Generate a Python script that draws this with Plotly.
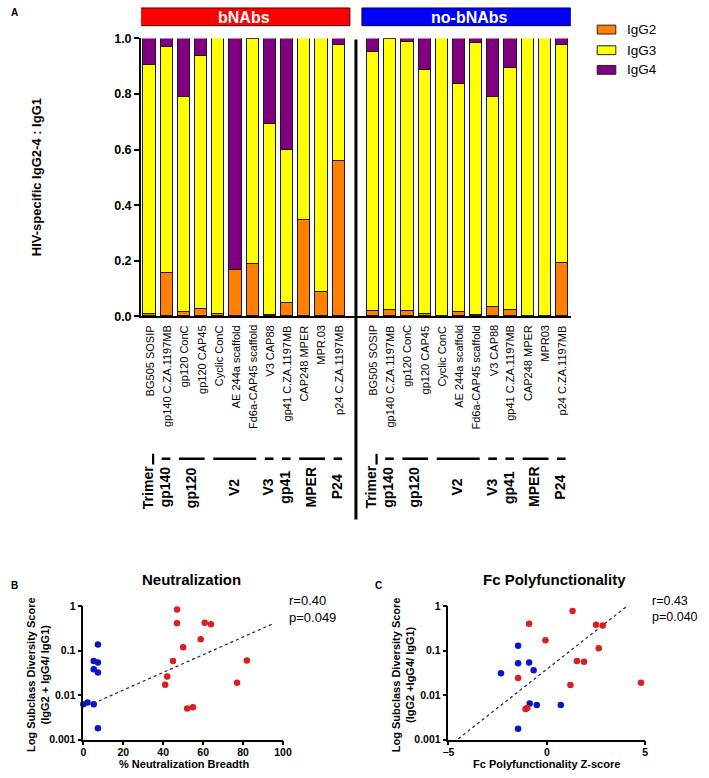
import plotly.graph_objects as go

# ---------------- data ----------------
antigens_bnabs = ["BG505 SOSIP", "gp140 C.ZA.1197MB", "gp120 ConC", "gp120 CAP45", "Cyclic ConC",
                  "AE 244a scaffold", "Fd6a-CAP45 scaffold", "V3 CAP88", "gp41 C.ZA.1197MB",
                  "CAP248 MPER", "MPR.03", "p24 C.ZA.1197MB"]
antigens_nobnabs = ["BG505 SOSIP", "gp140 C.ZA.1197MB", "gp120 ConC", "gp120 CAP45", "Cyclic ConC",
                    "AE 244a scaffold", "Fd6a-CAP45 scaffold", "V3 CAP88", "gp41 C.ZA.1197MB",
                    "CAP248 MPER", "MPR03", "p24 C.ZA.1197MB"]
groups = ["Trimer", "gp140", "gp120", "V2", "V3", "gp41", "MPER", "P24"]
group_sizes = [1, 1, 2, 3, 1, 1, 2, 1]

igg2_bnabs = [0.006, 0.154, 0.015, 0.024, 0.008, 0.167, 0.186, 0.005, 0.046, 0.346, 0.085, 0.556]
igg3_bnabs = [0.897, 0.813, 0.772, 0.913, 0.992, 0.000, 0.810, 0.684, 0.552, 0.654, 0.915, 0.420]
igg4_bnabs = [0.097, 0.033, 0.213, 0.063, 0.000, 0.833, 0.004, 0.311, 0.402, 0.000, 0.000, 0.024]

igg2_nobnabs = [0.018, 0.020, 0.018, 0.008, 0.000, 0.013, 0.002, 0.033, 0.021, 0.000, 0.000, 0.190]
igg3_nobnabs = [0.930, 0.975, 0.968, 0.877, 1.000, 0.821, 0.980, 0.754, 0.872, 1.000, 1.000, 0.784]
igg4_nobnabs = [0.052, 0.005, 0.014, 0.115, 0.000, 0.166, 0.018, 0.213, 0.107, 0.000, 0.000, 0.026]

a_yticks = [0.0, 0.2, 0.4, 0.6, 0.8, 1.0]
a_yticklabels = ["0.0", "0.2", "0.4", "0.6", "0.8", "1.0"]

# Panel B
neut_blue_x = [0, 2.1, 5.2, 5.2, 7.3, 7.3, 5.2, 7.3, 7.3]
neut_blue_y = [0.0062, 0.0068, 0.0062, 0.058, 0.054, 0.136, 0.038, 0.032, 0.0018]
neut_red_x = [46.9, 46.9, 60.8, 63.9, 58.8, 50.0, 44.9, 81.9, 77.0, 42.0, 41.0, 52.0, 54.9]
neut_red_y = [0.83, 0.41, 0.42, 0.39, 0.18, 0.118, 0.058, 0.060, 0.019, 0.026, 0.017, 0.0050, 0.0053]
neut_fit_x = [5, 95]
neut_fit_y = [0.0065, 0.40]

# Panel C
fc_blue_x = [-1.46, -1.46, -0.90, -2.33, -0.67, -0.87, -0.51, 0.71, -1.46]
fc_blue_y = [0.128, 0.052, 0.054, 0.031, 0.036, 0.0065, 0.0060, 0.0060, 0.00175]
fc_red_x = [1.31, -0.90, 2.50, 2.84, -0.07, 2.64, 1.53, 1.89, -1.46, 1.20, 4.79, -1.08, -0.99]
fc_red_y = [0.776, 0.40, 0.38, 0.367, 0.171, 0.112, 0.058, 0.056, 0.0243, 0.0168, 0.0189, 0.00485, 0.0051]
fc_fit_x = [-4.5, 4.24]
fc_fit_y = [0.00104, 1.13]

log_ticks = [0.001, 0.01, 0.1, 1]
log_ticklabels = ["0.001", "0.01", "0.1", "1"]

# ---------------- styling ----------------
W, H = 709, 778
FONT = "Liberation Sans, Arial, sans-serif"
C_IGG2, C_IGG3, C_IGG4 = "#ff7f00", "#ffff00", "#800080"
C_RED, C_BLUE = "#dc1e1e", "#0a14c8"


def fx(px):
    return px / W


def fy(py):
    return 1 - py / H


fig = go.Figure()

# positions: left group 0..11, gap at 12, right group 13..24
n = len(antigens_bnabs)
pos_left = list(range(n))
pos_right = [n + 1 + i for i in range(n)]
xs = pos_left + pos_right

for name, vals, col in [("IgG2", igg2_bnabs + igg2_nobnabs, C_IGG2),
                        ("IgG3", igg3_bnabs + igg3_nobnabs, C_IGG3),
                        ("IgG4", igg4_bnabs + igg4_nobnabs, C_IGG4)]:
    fig.add_trace(go.Bar(x=xs, y=vals, name=name, width=0.71,
                         marker=dict(color=col, line=dict(color="#1a1a1a", width=1)),
                         xaxis="x", yaxis="y", showlegend=False))

# scatter B
fig.add_trace(go.Scatter(x=neut_fit_x, y=neut_fit_y, mode="lines",
                         line=dict(color="#222", width=1.2, dash="3px,3px"),
                         xaxis="x2", yaxis="y2", showlegend=False))
fig.add_trace(go.Scatter(x=neut_blue_x, y=neut_blue_y, mode="markers",
                         marker=dict(color=C_BLUE, size=6.5), cliponaxis=False,
                         xaxis="x2", yaxis="y2", showlegend=False))
fig.add_trace(go.Scatter(x=neut_red_x, y=neut_red_y, mode="markers",
                         marker=dict(color=C_RED, size=6.5), cliponaxis=False,
                         xaxis="x2", yaxis="y2", showlegend=False))
# scatter C
fig.add_trace(go.Scatter(x=fc_fit_x, y=fc_fit_y, mode="lines",
                         line=dict(color="#222", width=1.2, dash="3px,3px"),
                         xaxis="x3", yaxis="y3", showlegend=False))
fig.add_trace(go.Scatter(x=fc_blue_x, y=fc_blue_y, mode="markers",
                         marker=dict(color=C_BLUE, size=6.5), cliponaxis=False,
                         xaxis="x3", yaxis="y3", showlegend=False))
fig.add_trace(go.Scatter(x=fc_red_x, y=fc_red_y, mode="markers",
                         marker=dict(color=C_RED, size=6.5), cliponaxis=False,
                         xaxis="x3", yaxis="y3", showlegend=False))

bold_tick = lambda s: dict(family=FONT, size=s, color="black", weight="bold")

fig.update_layout(
    width=W, height=H, margin=dict(l=0, r=0, t=0, b=0),
    paper_bgcolor="white", plot_bgcolor="white",
    barmode="stack", bargap=0, font=dict(family=FONT, color="black"),
    xaxis=dict(domain=[fx(138), fx(577)], range=[-0.5, 2 * n + 0.5], showticklabels=False,
               showline=True, linewidth=2, linecolor="black", ticks="", showgrid=False,
               zeroline=False, anchor="y"),
    yaxis=dict(domain=[fy(315), fy(32)], range=[0, 1], tickvals=a_yticks, ticktext=a_yticklabels,
               tickfont=bold_tick(12.5), ticks="outside", ticklen=5, tickwidth=2, tickcolor="black",
               showline=True, linewidth=2, linecolor="black", showgrid=False, zeroline=False,
               anchor="x"),
    xaxis2=dict(domain=[fx(79), fx(283)], range=[0, 100], tickvals=[0, 20, 40, 60, 80, 100],
                tickfont=bold_tick(10.5), ticks="outside", ticklen=4, tickwidth=1.5, tickcolor="black",
                ticklabelstandoff=-2,
                showline=True, linewidth=1.5, linecolor="black", showgrid=False, zeroline=False,
                anchor="y2"),
    yaxis2=dict(domain=[fy(746), fy(610)], type="log", range=[-3, 0], tickvals=log_ticks,
                ticktext=log_ticklabels, tickfont=bold_tick(10.5), ticks="outside", ticklen=4,
                tickwidth=1.5, tickcolor="black", showline=True, linewidth=1.5, linecolor="black",
                showgrid=False, zeroline=False, anchor="x2"),
    xaxis3=dict(domain=[fx(452), fx(653)], range=[-5, 5], tickvals=[-5, 0, 5],
                tickfont=bold_tick(10.5), ticks="outside", ticklen=4, tickwidth=1.5, tickcolor="black",
                ticklabelstandoff=-2,
                showline=True, linewidth=1.5, linecolor="black", showgrid=False, zeroline=False,
                anchor="y3"),
    yaxis3=dict(domain=[fy(746), fy(610)], type="log", range=[-3, 0], tickvals=log_ticks,
                ticktext=log_ticklabels, tickfont=bold_tick(10.5), ticks="outside", ticklen=4,
                tickwidth=1.5, tickcolor="black", showline=True, linewidth=1.5, linecolor="black",
                showgrid=False, zeroline=False, anchor="x3"),
)

shapes = []
anns = []


def ann(text, x, y, size, bold=False, xanchor="center", yanchor="middle", angle=0,
        xref="paper", color="black", align="center"):
    anns.append(dict(text=text, x=x if xref != "paper" else fx(x), y=fy(y), xref=xref, yref="paper",
                     showarrow=False, xanchor=xanchor, yanchor=yanchor, textangle=angle, align=align,
                     font=dict(family=FONT, size=size, color=color,
                               weight="bold" if bold else "normal")))


# category labels (rotated)
for p, lab in zip(pos_left + pos_right, antigens_bnabs + antigens_nobnabs):
    ann(lab, p, 322, 11, angle=-90, yanchor="top", xref="x")

# group lines & labels
for offset in (0, n + 1):
    start = 0
    for g, sz in zip(groups, group_sizes):
        first = offset + start
        last = first + sz - 1
        if g == "Trimer":
            shapes.append(dict(type="line", xref="x", yref="paper", x0=first + 0.2, x1=first + 0.2,
                               y0=fy(455), y1=fy(466), line=dict(color="black", width=2.2)))
        else:
            shapes.append(dict(type="line", xref="x", yref="paper", x0=first - 0.3, x1=last + 0.2,
                               y0=fy(460), y1=fy(460), line=dict(color="black", width=2.6)))
        ann(g, (first + last) / 2 - 0.1, 489, 14, bold=True, angle=-90, xref="x")
        start += sz

# divider
shapes.append(dict(type="line", xref="x", yref="paper", x0=n, x1=n, y0=fy(33), y1=fy(522),
                   line=dict(color="black", width=3)))

# header boxes
shapes.append(dict(type="rect", xref="x", yref="paper", x0=-0.65, x1=n - 0.35, y0=fy(19), y1=fy(1),
                   fillcolor="#ff0000", line=dict(color="#550000", width=1)))
shapes.append(dict(type="rect", xref="x", yref="paper", x0=n + 0.35, x1=2 * n + 0.5, y0=fy(19), y1=fy(1),
                   fillcolor="#0000ff", line=dict(color="#000055", width=1)))
ann("bNAbs", (n - 1) / 2, 10.5, 16, bold=True, xref="x", color="white")
ann("no-bNAbs", n + 1 + (n - 1) / 2 + 0.1, 10.5, 16, bold=True, xref="x", color="white")

# legend
for lab, col, yc in [("IgG2", C_IGG2, 23), ("IgG3", C_IGG3, 44), ("IgG4", C_IGG4, 64)]:
    shapes.append(dict(type="rect", xref="paper", yref="paper", x0=fx(604), x1=fx(623),
                       y0=fy(yc + 4.5), y1=fy(yc - 4.5), fillcolor=col,
                       line=dict(color="#222", width=1)))
    ann(lab, 632, yc, 13.5, xanchor="left")

# panel A labels
ann("A", 3, 6, 10, bold=True, xanchor="left")
ann("HIV-specific IgG2-4 : IgG1", 32, 173, 13, bold=True, angle=-90)

# panel B
ann("B", 3, 589, 10, bold=True, xanchor="left")
ann("Neutralization", 189, 583, 15, bold=True)
ann("Log Subclass Diversity Score<br>(IgG2 + IgG4/ IgG1)", 32, 680, 11, bold=True, angle=-90)
ann("% Neutralization Breadth", 182, 771, 11, bold=True)
ann("r=0.40<br>p=0.049", 287, 613, 13, xanchor="left", align="left")

# panel C
ann("C", 375, 589, 10, bold=True, xanchor="left")
ann("Fc Polyfunctionality", 560, 583, 15, bold=True)
ann("Log Subclass Diversity Score<br>(IgG2 +IgG4/ IgG1)", 405, 680, 11, bold=True, angle=-90)
ann("Fc Polyfunctionality Z-score", 552, 771, 11, bold=True)
ann("r=0.43<br>p=0.040", 658, 613, 12.5, xanchor="left", align="left")

fig.update_layout(shapes=shapes, annotations=anns)
fig.write_html("out.html", config={"displayModeBar": False},
               post_script="document.body.style.margin='0';document.body.style.overflow='hidden';")
